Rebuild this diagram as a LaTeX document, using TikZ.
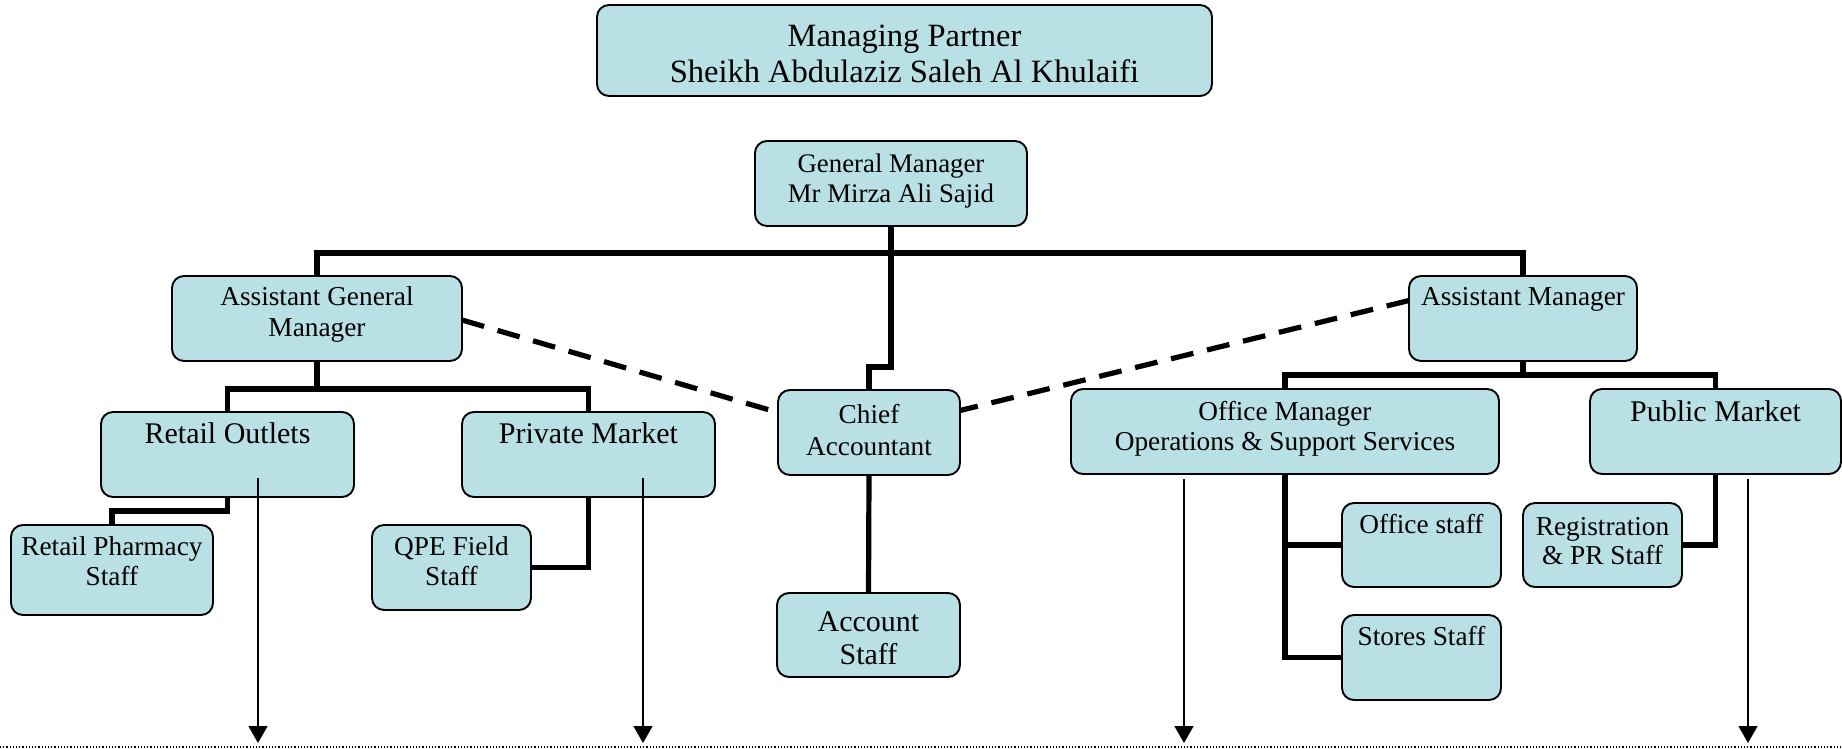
\documentclass[tikz,border=0pt]{standalone}
\usepackage{fontspec}
\setmainfont{Liberation Serif}
\usetikzlibrary{arrows.meta,calc}
\definecolor{boxfill}{RGB}{185,224,228}
\begin{document}
\begin{tikzpicture}[x=1pt,y=-1pt,
  box/.style={draw=black, line width=1.9pt, fill=boxfill, rounded corners=12pt, inner sep=0pt, outer sep=0pt},
  conn/.style={line width=5.2pt},
  dsh/.style={line width=5.2pt, dash pattern=on 23pt off 14pt},
  txt/.style={inner sep=0pt, outer sep=0pt, anchor=base, font=\fontsize{27.3}{30}\selectfont},
  gmtxt/.style={txt, font=\fontsize{26.8}{30}\selectfont},
  bigtxt/.style={txt, font=\fontsize{30}{33}\selectfont},
  mptxt/.style={txt, font=\fontsize{32.5}{35}\selectfont},
  arr/.style={line width=1.5pt, -{Triangle[width=19pt,length=17pt]}}]
\useasboundingbox (0,0) rectangle (1842,749);
% boxes
\node[box, minimum width=615pt, minimum height=91pt] (mp) at (904.5,50.5) {};
\node[box, minimum width=272pt, minimum height=85pt] (gm) at (891,183.5) {};
\node[box, minimum width=290pt, minimum height=85pt] (agm) at (317,318.5) {};
\node[box, minimum width=228pt, minimum height=85pt] (am) at (1523,318.5) {};
\node[box, minimum width=182pt, minimum height=85pt] (ca) at (869,432.5) {};
\node[box, minimum width=253pt, minimum height=85pt] (ro) at (227.5,454.5) {};
\node[box, minimum width=253pt, minimum height=85pt] (pvm) at (588.5,454.5) {};
\node[box, minimum width=428pt, minimum height=85pt] (om) at (1285,431.5) {};
\node[box, minimum width=251pt, minimum height=85pt] (pub) at (1715.5,431.5) {};
\node[box, minimum width=202pt, minimum height=90pt] (rps) at (112,570) {};
\node[box, minimum width=159pt, minimum height=85pt] (qpe) at (451.5,567.5) {};
\node[box, minimum width=183pt, minimum height=84pt] (acs) at (868.5,635) {};
\node[box, minimum width=159pt, minimum height=84pt] (os) at (1421.5,545) {};
\node[box, minimum width=159pt, minimum height=85pt] (ss) at (1421.5,657.5) {};
\node[box, minimum width=159pt, minimum height=84pt] (reg) at (1602.5,545) {};
% texts
\node[mptxt] (mp1) at (904.5,47) {Managing Partner};
\node[mptxt] (mp2) at (904.5,83) {Sheikh Abdulaziz Saleh Al Khulaifi};
\node[gmtxt] (gm1) at (891,172) {General Manager};
\node[gmtxt] (gm2) at (891,202) {Mr Mirza Ali Sajid};
\node[txt] (agm1) at (317,305) {Assistant General};
\node[txt] (agm2) at (317,336) {Manager};
\node[txt] (am1) at (1523,305) {Assistant Manager};
\node[txt] (ca1) at (869,423) {Chief};
\node[txt] (ca2) at (869,455) {Accountant};
\node[bigtxt] (ro1) at (227.5,443) {Retail Outlets};
\node[bigtxt] (pvm1) at (588.5,443) {Private Market};
\node[txt] (om1) at (1285,420) {Office Manager};
\node[txt] (om2) at (1285,450) {Operations \& Support Services};
\node[bigtxt] (pub1) at (1715.5,421) {Public Market};
\node[txt] (rps1) at (112,555) {Retail Pharmacy};
\node[txt] (rps2) at (112,585) {Staff};
\node[txt] (qpe1) at (451.5,555) {QPE Field};
\node[txt] (qpe2) at (451.5,585) {Staff};
\node[bigtxt] (acs1) at (868.5,631) {Account};
\node[bigtxt] (acs2) at (868.5,664) {Staff};
\node[txt] (os1) at (1421.5,533) {Office staff};
\node[txt] (ss1) at (1421.5,645) {Stores Staff};
\node[txt] (reg1) at (1602.5,535) {Registration};
\node[txt] (reg2) at (1602.5,564) {\& PR Staff};
% solid connectors
\draw[conn] (agm.north) -- ++(0,-23) -| (am.north);
\draw[conn] (gm.south) |- ($(ca.north)+(0,-23)$) -- (ca.north);
\draw[conn] (ro.north) -- ++(0,-23) -| (pvm.north);
\draw[conn] (agm.south) -- ++(0,28);
\draw[conn] (ro.south) -- ++(0,14) -| (rps.north);
\draw[conn] (pvm.south) |- (qpe.east);
\draw[conn] (om.north) -- ++(0,-14) -| (pub.north);
\draw[conn] (am.south) -- ++(0,14);
\draw[conn] (om.south) |- (ss.west);
\draw[conn] (om.south) |- (os.west);
\draw[conn] (pub.south) |- (reg.east);
\draw[conn] (ca.south) -- (acs.north);
% dashed connectors
\draw[dsh] ($(agm.east)+(0,1.5)$) -- ($(ca.west)+(0,-20)$);
\draw[dsh] ($(am.west)+(0,-18)$) -- ($(ca.east)+(0,-22)$);
% arrows
\coordinate (roA) at (258,478);
\coordinate (roB) at (258,743);
\coordinate (pvA) at (643,478);
\coordinate (pvB) at (643,743);
\coordinate (omA) at (1184,479);
\coordinate (omB) at (1184,743);
\coordinate (puA) at (1748,479);
\coordinate (puB) at (1748,743);
\draw[arr] (roA) -- (roB);
\draw[arr] (pvA) -- (pvB);
\draw[arr] (omA) -- (omB);
\draw[arr] (puA) -- (puB);
% dotted base line
\draw[dotted, line width=1.2pt] (0,747) -- (1842,747);
\end{tikzpicture}
\end{document}
